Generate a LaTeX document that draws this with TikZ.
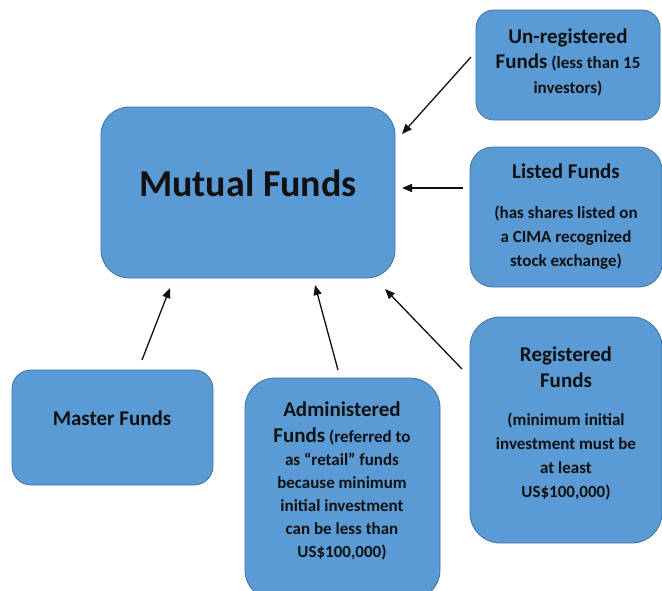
\documentclass[tikz,border=0pt]{standalone}
\usepackage{fontspec}
\setmainfont{Carlito}
\usetikzlibrary{arrows.meta}
\definecolor{boxfill}{HTML}{5B9BD5}
\definecolor{boxline}{HTML}{41719C}
\definecolor{inkc}{HTML}{111111}
\newcommand{\ttl}[1]{{\fontsize{21}{25}\selectfont #1}}
\tikzset{
  fundbox/.style={draw=boxline, line width=0.8pt, fill=boxfill, inner sep=0pt},
  fundtxt/.style={align=center, text=inkc, font=\bfseries\fontsize{17}{24}\selectfont, inner sep=0pt},
  arr/.style={draw=inkc, line width=1.3pt, -{Triangle[length=10pt,width=8pt]}}
}
\begin{document}
\begin{tikzpicture}[x=1pt,y=-1pt]
\useasboundingbox (0,0) rectangle (662,590);
% boxes
\node[fundbox, minimum width=294pt, minimum height=171pt, rounded corners=28pt] (mutual) at (248,192.5) {};
\node[fundbox, minimum width=184pt, minimum height=110pt, rounded corners=18pt] (unreg) at (568,65) {};
\node[fundbox, minimum width=192pt, minimum height=140pt, rounded corners=23pt] (listed) at (566,217) {};
\node[fundbox, minimum width=192pt, minimum height=226pt, rounded corners=30pt] (reg) at (566,430) {};
\node[fundbox, minimum width=195pt, minimum height=222pt, rounded corners=30pt] (admin) at (342.5,489) {};
\node[fundbox, minimum width=201pt, minimum height=115pt, rounded corners=19pt] (master) at (112.5,427.5) {};
% texts
\node[fundtxt, font=\bfseries\fontsize{38}{40}\selectfont] (mutualT) at (248,183) {Mutual Funds};
\node[fundtxt, font=\bfseries\fontsize{17}{25}\selectfont] (unregT) at (568,62) {\ttl{Un-registered}\\ \ttl{Funds} (less than 15\\ investors)};
\node[fundtxt] (listedT) at (566,217) {\ttl{Listed Funds}\\[16pt] (has shares listed on\\ a CIMA recognized\\ stock exchange)};
\node[fundtxt] (regT) at (566,423) {\ttl{Registered}\\[2pt] \ttl{Funds}\\[14pt] (minimum initial\\ investment must be\\ at least\\ US\$100,000)};
\node[fundtxt, font=\bfseries\fontsize{17}{23}\selectfont] (adminT) at (342,481) {\ttl{Administered}\\[3pt] \ttl{Funds} (referred to\\ as “retail” funds\\ because minimum\\ initial investment\\ can be less than\\ US\$100,000)};
\node[fundtxt] (masterT) at (112,418) {\ttl{Master Funds}};
% arrow ends
\coordinate (a1s) at (471,57);  \coordinate (a1e) at (402,134);
\coordinate (a2s) at (463,188); \coordinate (a2e) at (402,188);
\coordinate (a3s) at (462,369); \coordinate (a3e) at (385,289);
\coordinate (a4s) at (338,370); \coordinate (a4e) at (315,285);
\coordinate (a5s) at (142,360); \coordinate (a5e) at (170,288);
\draw[arr] (a1s) -- (a1e);
\draw[arr] (a2s) -- (a2e);
\draw[arr] (a3s) -- (a3e);
\draw[arr] (a4s) -- (a4e);
\draw[arr] (a5s) -- (a5e);
\end{tikzpicture}
\end{document}
